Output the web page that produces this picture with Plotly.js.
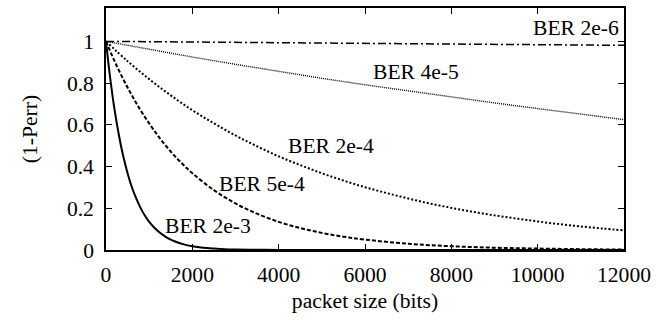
<!DOCTYPE html>
<html>
<head>
<meta charset="utf-8">
<script src="https://cdn.plot.ly/plotly-3.0.1.min.js"></script>
<style>html,body{margin:0;padding:0;background:#fff;}#chart{width:656px;height:320px;}</style>
</head>
<body>
<div id="chart"></div>
<script>
// packet size (bits) and (1-Perr)
var x_2e6 = [0, 2000, 4000, 6000, 8000, 10000, 12000];
var y_2e6 = [1, 0.997, 0.994, 0.990, 0.987, 0.984, 0.981];

var x_4e5 = [0, 1000, 2000, 3000, 4000, 5000, 6000, 7000, 8000, 9000, 10000, 11000, 12000];
var y_4e5 = [1, 0.962, 0.925, 0.890, 0.856, 0.823, 0.792, 0.762, 0.733, 0.705, 0.678, 0.651, 0.625];

var x_2e4 = [0, 500, 1000, 1500, 2000, 2500, 3000, 3500, 4000, 4500, 5000, 5500, 6000, 6500, 7000, 7500, 8000, 8500, 9000, 9500, 10000, 10500, 11000, 11500, 12000];
var y_2e4 = [1, 0.905, 0.819, 0.741, 0.670, 0.607, 0.549, 0.497, 0.449, 0.407, 0.368, 0.333, 0.301, 0.273, 0.247, 0.223, 0.202, 0.183, 0.166, 0.151, 0.137, 0.124, 0.113, 0.103, 0.094];

var x_5e4 = [0, 250, 500, 750, 1000, 1250, 1500, 1750, 2000, 2500, 3000, 3500, 4000, 4500, 5000, 5500, 6000, 7000, 8000, 9000, 10000, 11000, 12000];
var y_5e4 = [1, 0.882, 0.779, 0.687, 0.607, 0.535, 0.472, 0.417, 0.368, 0.287, 0.223, 0.174, 0.135, 0.105, 0.082, 0.064, 0.050, 0.030, 0.018, 0.011, 0.007, 0.004, 0.002];

var x_2e3 = [0, 100, 200, 300, 400, 500, 600, 700, 800, 900, 1000, 1200, 1400, 1600, 1800, 2000, 2250, 2500, 2750, 3000, 3500, 4000, 5000, 6000, 8000, 10000, 12000];
var y_2e3 = [1, 0.819, 0.670, 0.549, 0.449, 0.368, 0.301, 0.247, 0.202, 0.165, 0.135, 0.091, 0.061, 0.041, 0.027, 0.018, 0.011, 0.007, 0.004, 0.0025, 0.001, 0.0003, 0, 0, 0, 0, 0];

var labels = ["BER 2e-6", "BER 4e-5", "BER 2e-4", "BER 5e-4", "BER 2e-3"];
var labelX = [10886, 7170, 5217, 3619, 2358];
var labelY = [1.063, 0.855, 0.500, 0.316, 0.116];

var xTicks = [0, 2000, 4000, 6000, 8000, 10000, 12000];
var yTicks = [0, 0.2, 0.4, 0.6, 0.8, 1];
var yTickText = ["0", "0.2", "0.4", "0.6", "0.8", "1"];

var FONT = "Liberation Serif";
var FS = 21.6;

var traces = [
  {x: x_2e6, y: y_2e6, mode: 'lines', line: {color: '#000', width: 1.5, dash: '8px,3px,2px,3px'}},
  {x: x_4e5, y: y_4e5, mode: 'lines', line: {color: '#000', width: 1.4, dash: '1px,1px'}},
  {x: x_2e4, y: y_2e4, mode: 'lines', line: {color: '#000', width: 2, dash: '2px,2px', shape: 'spline'}},
  {x: x_5e4, y: y_5e4, mode: 'lines', line: {color: '#000', width: 2, dash: '4px,2px', shape: 'spline'}},
  {x: x_2e3, y: y_2e3, mode: 'lines', line: {color: '#000', width: 2, shape: 'spline'}}
];

var annotations = labels.map(function (t, i) {
  return {x: labelX[i], y: labelY[i], xref: 'x', yref: 'y', text: t, showarrow: false,
          font: {family: FONT, size: FS, color: '#000'}};
});

var layout = {
  width: 656, height: 320,
  margin: {l: 106, r: 32, t: 8, b: 70, pad: 0},
  paper_bgcolor: '#fff', plot_bgcolor: '#fff',
  showlegend: false,
  xaxis: {
    range: [0, 12000], tickvals: xTicks, ticktext: xTicks.map(String),
    ticks: 'inside', ticklen: 6, tickwidth: 1, tickcolor: '#000',
    showline: true, linecolor: '#000', linewidth: 1.5, mirror: 'ticks',
    showgrid: false, zeroline: false, ticklabelstandoff: 4,
    tickfont: {family: FONT, size: FS, color: '#000'},
    title: {text: 'packet size (bits)', font: {family: FONT, size: FS, color: '#000'}, standoff: 7}
  },
  yaxis: {
    range: [0, 1.16], tickvals: yTicks, ticktext: yTickText,
    ticks: 'inside', ticklen: 6, tickwidth: 1, tickcolor: '#000',
    showline: true, linecolor: '#000', linewidth: 1.5, mirror: 'ticks',
    showgrid: false, zeroline: false, ticklabelstandoff: 6,
    tickfont: {family: FONT, size: FS, color: '#000'},
    title: {text: '(1-Perr)', font: {family: FONT, size: FS, color: '#000'}, standoff: 23}
  },
  annotations: annotations
};

Plotly.newPlot('chart', traces, layout, {displayModeBar: false});
</script>
</body>
</html>
